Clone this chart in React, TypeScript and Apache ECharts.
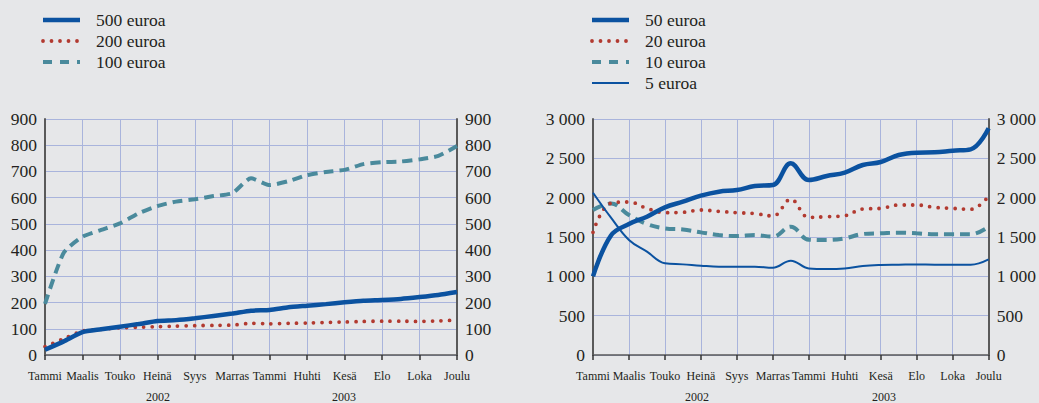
import React, { useEffect, useRef } from "react";
import * as echarts from "echarts";

const monthLabels = ["Tammi", "Maalis", "Touko", "Heinä", "Syys", "Marras", "Tammi", "Huhti", "Kesä", "Elo", "Loka", "Joulu"];
const yearLabels = ["2002", "2003"];
const categories = Array.from({ length: 23 }, (_, i) => String(i));

// Left chart (large notes)
const eur500 = [20, 52, 87, 98, 108, 118, 130, 133, 140, 149, 158, 169, 172, 182, 188, 194, 201, 207, 210, 214, 221, 229, 240];
const eur200 = [32, 62, 92, 98, 104, 106, 108, 110, 112, 113, 114, 121, 119, 121, 122, 124, 126, 128, 129, 129, 128, 130, 133];
const eur100 = [195, 390, 451, 477, 502, 540, 568, 585, 594, 606, 617, 674, 648, 663, 686, 698, 706, 728, 735, 738, 746, 759, 797];

// Right chart (small notes)
const eur50 = [1000, 1520, 1665, 1758, 1877, 1949, 2025, 2076, 2097, 2148, 2161, 2436, 2224, 2275, 2318, 2415, 2453, 2542, 2572, 2576, 2597, 2614, 2881];
const eur20 = [1560, 1930, 1945, 1864, 1809, 1814, 1843, 1826, 1809, 1798, 1767, 1979, 1750, 1758, 1771, 1856, 1864, 1907, 1907, 1877, 1864, 1852, 2021];
const eur10 = [1843, 1925, 1779, 1665, 1610, 1596, 1559, 1525, 1512, 1525, 1504, 1631, 1466, 1462, 1483, 1538, 1547, 1555, 1547, 1534, 1534, 1534, 1631];
const eur5 = [2063, 1746, 1462, 1313, 1165, 1152, 1135, 1123, 1123, 1123, 1110, 1199, 1101, 1093, 1101, 1131, 1144, 1148, 1152, 1148, 1148, 1148, 1216];

const BLUE = "#0b52a0";
const RED = "#b23a30";
const TEAL = "#4a8a9c";
const GRIDC = "#a9b4dc";
const AXISC = "#5a5a5a";
const TEXTC = "#231f20";
const FONT = "Liberation Serif";

const fmtThousands = (v: number) => {
  const s = String(v);
  return s.length > 3 ? s.slice(0, s.length - 3) + " " + s.slice(s.length - 3) : s;
};

export default function App() {
  const ref = useRef<HTMLDivElement>(null);
  useEffect(() => {
    if (!ref.current) return;
    const chart = echarts.init(ref.current, undefined, { renderer: "svg" });

    const xAxisBase = (gridIndex: number) => ({
      type: "category" as const,
      gridIndex,
      data: categories,
      boundaryGap: false,
      axisLine: { show: true, lineStyle: { color: AXISC, width: 1.5 } },
      axisTick: { show: true, interval: 1, length: 5, lineStyle: { color: "#333", width: 1.5 } },
      axisLabel: {
        interval: 1,
        margin: 15,
        fontSize: 12,
        fontFamily: FONT,
        color: TEXTC,
        formatter: (_v: string, idx: number) => monthLabels[idx / 2] ?? "",
      },
      splitLine: { show: true, interval: 1, lineStyle: { color: GRIDC, width: 1 } },
    });

    const yAxisBase = (gridIndex: number, position: "left" | "right", max: number, interval: number, fmt: boolean, grid: boolean) => ({
      type: "value" as const,
      gridIndex,
      position,
      min: 0,
      max,
      interval,
      axisLine: { show: true, lineStyle: { color: AXISC, width: 2 } },
      axisTick: { show: false },
      axisLabel: {
        margin: 8,
        fontSize: 17.5,
        fontFamily: FONT,
        color: TEXTC,
        formatter: (v: number) => (fmt ? fmtThousands(v) : String(v)),
      },
      splitLine: { show: grid, lineStyle: { color: GRIDC, width: 1 } },
    });

    const dotted = (color: string, w: number) => ({ color, width: w, type: [0, 8.5] as number[], cap: "round" as const });
    const dashed = (color: string, w: number) => ({ color, width: w, type: [10, 6] as number[], cap: "butt" as const });

    const series = [
      { name: "100 euroa", data: eur100, xAxisIndex: 0, yAxisIndex: 0, lineStyle: dashed(TEAL, 4), smooth: 0.2 },
      { name: "200 euroa", data: eur200, xAxisIndex: 0, yAxisIndex: 0, lineStyle: dotted(RED, 3.8), smooth: 0.2 },
      { name: "500 euroa", data: eur500, xAxisIndex: 0, yAxisIndex: 0, lineStyle: { color: BLUE, width: 4.5 }, smooth: 0.2 },
      { name: "10 euroa", data: eur10, xAxisIndex: 1, yAxisIndex: 2, lineStyle: dashed(TEAL, 4), smooth: 0.4 },
      { name: "20 euroa", data: eur20, xAxisIndex: 1, yAxisIndex: 2, lineStyle: dotted(RED, 3.8), smooth: 0.4 },
      { name: "5 euroa", data: eur5, xAxisIndex: 1, yAxisIndex: 2, lineStyle: { color: BLUE, width: 2 }, smooth: 0.4 },
      { name: "50 euroa", data: eur50, xAxisIndex: 1, yAxisIndex: 2, lineStyle: { color: BLUE, width: 4.5 }, smooth: 0.4 },
    ].map((s) => ({ ...s, type: "line" as const, showSymbol: false, symbol: "none" }));

    const legendItem = (x: number, y: number, label: string, style: any) => ({
      type: "group",
      children: [
        { type: "line", shape: { x1: x, y1: y, x2: x + 37, y2: y }, style },
        {
          type: "text",
          x: x + 53,
          y,
          style: { text: label, fontSize: 17.5, fontFamily: FONT, fill: TEXTC, verticalAlign: "middle" },
        },
      ],
    });

    const solid = (w: number) => ({ stroke: BLUE, lineWidth: w });
    const dotS = { stroke: RED, lineWidth: 3.8, lineDash: [0, 8.5], lineCap: "round" };
    const dashS = { stroke: TEAL, lineWidth: 4, lineDash: [9, 8] };

    const yearText = (x: number, text: string) => ({
      type: "text",
      x,
      y: 397,
      style: { text, fontSize: 12, fontFamily: FONT, fill: TEXTC, align: "center", verticalAlign: "middle" },
    });

    chart.setOption({
      animation: false,
      backgroundColor: "#e6e7e9",
      textStyle: { fontFamily: FONT },
      grid: [
        { left: 45, right: 582, top: 119, bottom: 48 },
        { left: 593, right: 50, top: 119, bottom: 48 },
      ],
      xAxis: [xAxisBase(0), xAxisBase(1)],
      yAxis: [
        yAxisBase(0, "left", 900, 100, false, true),
        yAxisBase(0, "right", 900, 100, false, false),
        yAxisBase(1, "left", 3000, 500, true, true),
        yAxisBase(1, "right", 3000, 500, true, false),
      ],
      series,
      graphic: [
        legendItem(43, 20, "500 euroa", solid(4.5)),
        legendItem(43, 41, "200 euroa", dotS),
        legendItem(43, 62, "100 euroa", dashS),
        legendItem(592, 20, "50 euroa", solid(4.5)),
        legendItem(592, 41, "20 euroa", dotS),
        legendItem(592, 62, "10 euroa", dashS),
        legendItem(592, 83, "5 euroa", solid(2)),
        yearText(158, yearLabels[0]),
        yearText(344, yearLabels[1]),
        yearText(697, yearLabels[0]),
        yearText(884, yearLabels[1]),
      ],
    });
    return () => chart.dispose();
  }, []);
  return <div ref={ref} style={{ position: "fixed", left: 0, top: 0, width: 1039, height: 403 }} />;
}
